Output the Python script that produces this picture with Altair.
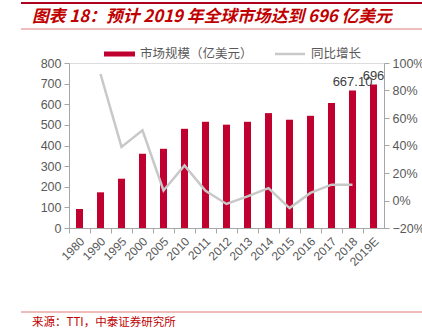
import altair as alt
import pandas as pd

years = ["1980", "1990", "1995", "2000", "2005", "2010", "2011", "2012", "2013",
         "2014", "2015", "2016", "2017", "2018", "2019E"]
market = [92, 173, 239, 360, 384, 481, 515, 501, 515, 557, 525, 544, 606, 667.1, 696]
growth_years = ["1990", "1995", "2000", "2005", "2010", "2011", "2012", "2013",
                "2014", "2015", "2016", "2017", "2018"]
growth = [0.92, 0.39, 0.51, 0.073, 0.255, 0.07, -0.025, 0.03, 0.09, -0.055, 0.055, 0.115, 0.115]
label_years = ["2018", "2019E"]
label_values = [667.1, 696]
label_texts = ["667.10", "696"]

title_text = "图表 18：预计 2019 年全球市场达到 696 亿美元"
source_text = "来源：TTI，中泰证券研究所"
legend_bar = "市场规模（亿美元）"
legend_line = "同比增长"

bar_df = pd.DataFrame({"year": years, "market": market})
line_df = pd.DataFrame({"year": growth_years, "growth": growth})
lab_df = pd.DataFrame({"year": label_years, "market": label_values, "text": label_texts})

FONT = "Liberation Sans"
CJK = "Noto Sans CJK SC"
GRAY = "#595959"
RED = "#C0002F"

xscale = alt.Scale(domain=years, paddingInner=0, paddingOuter=0)
x_axis = alt.Axis(title=None, labelAngle=-45, labelAlign="right", labelBaseline="middle",
                  bandPosition=0, labelOffset=3, labelFontSize=12, labelColor=GRAY,
                  labelFont=FONT, domainColor="#A6A6A6", tickColor="#A6A6A6",
                  tickSize=5, labelPadding=6, grid=False, labelOverlap=False)
y_left_scale = alt.Scale(domain=[0, 800], nice=False)
y_left_axis = alt.Axis(title=None, values=list(range(0, 801, 100)), labelFontSize=12.5,
                       labelColor=GRAY, labelFont=FONT, domainColor="#A6A6A6",
                       tickColor="#A6A6A6", tickSize=5, grid=False, labelPadding=3,
                       labelOverlap=False)

bars = alt.Chart(bar_df).mark_bar(size=7, color=RED).encode(
    x=alt.X("year:N", scale=xscale, axis=x_axis, sort=years),
    y=alt.Y("market:Q", scale=y_left_scale, axis=y_left_axis),
)

labels = alt.Chart(lab_df).mark_text(dy=-8, fontSize=13, color="#404040", font=FONT).encode(
    x=alt.X("year:N", scale=xscale, axis=x_axis, sort=years),
    y=alt.Y("market:Q", scale=y_left_scale, axis=y_left_axis),
    text="text:N",
)

left = alt.layer(bars, labels)

line = alt.Chart(line_df).mark_line(color="#C8C8C8", strokeWidth=2.5).encode(
    x=alt.X("year:N", scale=xscale, axis=x_axis, sort=years),
    y=alt.Y("growth:Q", scale=alt.Scale(domain=[-0.2, 1.0], nice=False),
            axis=alt.Axis(title=None, orient="right", format=".0%",
                          values=[-0.2, 0, 0.2, 0.4, 0.6, 0.8, 1.0], labelFontSize=12.5,
                          labelColor=GRAY, labelFont=FONT, domainColor="#A6A6A6",
                          tickColor="#A6A6A6", tickSize=5, grid=False, labelPadding=3,
                          labelOverlap=False)),
)

one = pd.DataFrame({"a": [0]})
deco = [
    alt.Chart(one).mark_rule(color="#B00020", strokeWidth=2).encode(
        x=alt.value(-48), x2=alt.value(353), y=alt.value(-60)),
    alt.Chart(one).mark_rule(color="#E07B7B", strokeWidth=1).encode(
        x=alt.value(-48), x2=alt.value(353), y=alt.value(-34)),
    alt.Chart(one).mark_text(align="left", baseline="middle", fontSize=16.8, fontWeight="bold",
                             fontStyle="italic", color="#C00000", font=CJK).encode(
        x=alt.value(-37), y=alt.value(-46), text=alt.value(title_text)),
    alt.Chart(one).mark_rect(color=RED).encode(
        x=alt.value(35), x2=alt.value(66), y=alt.value(-11.5), y2=alt.value(-6.5)),
    alt.Chart(one).mark_text(align="left", baseline="middle", fontSize=12.5, color=GRAY,
                             font=CJK).encode(
        x=alt.value(71), y=alt.value(-9), text=alt.value(legend_bar)),
    alt.Chart(one).mark_rule(color="#C8C8C8", strokeWidth=2.5).encode(
        x=alt.value(206), x2=alt.value(236), y=alt.value(-9)),
    alt.Chart(one).mark_text(align="left", baseline="middle", fontSize=12.5, color=GRAY,
                             font=CJK).encode(
        x=alt.value(242), y=alt.value(-9), text=alt.value(legend_line)),
    alt.Chart(one).mark_rule(color="#E07B7B", strokeWidth=1).encode(
        x=alt.value(-48), x2=alt.value(353), y=alt.value(249)),
    alt.Chart(one).mark_text(align="left", baseline="middle", fontSize=11.5, color="#C00000",
                             font=CJK).encode(
        x=alt.value(-37), y=alt.value(260), text=alt.value(source_text)),
]

chart = alt.layer(left, line, *deco).resolve_scale(y="independent").properties(
    width=315, height=165,
    autosize=alt.AutoSizeParams(type="none"),
    padding={"left": 69, "top": 63, "right": 38, "bottom": 101},
).configure_view(stroke=None).configure(background="white")

chart.save("out.html", embed_options={"renderer": "svg", "actions": False})
